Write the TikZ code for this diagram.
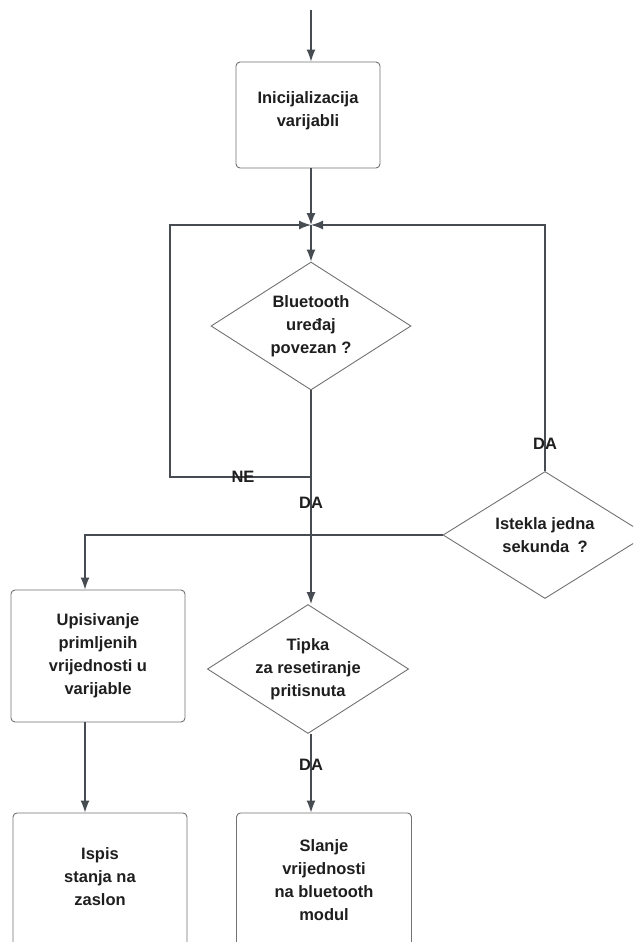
\documentclass[tikz,border=0pt]{standalone}
\usepackage{fontspec}
\setmainfont{Liberation Sans}
\usepackage{xcolor}
\usepackage{tikz}
\usetikzlibrary{arrows.meta, shapes.geometric}

\definecolor{linegray}{HTML}{474C53}
\definecolor{boxgray}{HTML}{727272}
\definecolor{txtgray}{HTML}{1E1E1E}

\begin{document}
\begin{tikzpicture}[x=1pt,y=-1pt,
%
    box/.style={rectangle,draw=boxgray,line width=0.9pt,rounded corners=4pt,align=center,
                text=txtgray,font=\bfseries\fontsize{16.5}{23}\selectfont},
    dec/.style={diamond,draw=boxgray,line width=0.9pt,inner sep=0pt,aspect=1.56,align=center,
                text=txtgray,font=\bfseries\fontsize{16.5}{23}\selectfont},
    lbl/.style={text=txtgray,font=\bfseries\fontsize{16.5}{18}\selectfont},
     Arr/.style={-{Latex[length=12pt,width=9pt]},draw=linegray,line width=1.3pt},
     Ln/.style={draw=linegray,line width=1.3pt},
                        ]
    \useasboundingbox (0,0) rectangle (633,942);
    \clip (0,0) rectangle (633,942);

    \node[box,minimum width=144pt,minimum height=106pt] (init_node) at (308,115)
        {Inicijalizacija\\varijabli\\[-11pt]};
    \node[dec,minimum width=200pt,minimum height=128pt] (bt_node) at (311,326)
        {Bluetooth\\uređaj\\povezan ?};
    \node[dec,minimum width=204pt,minimum height=127pt] (sec_node) at (545,535)
        {Istekla jedna\\sekunda\enspace ?};
    \node[box,minimum width=174pt,minimum height=132pt] (write_node) at (98,656)
        {Upisivanje\\primljenih\\vrijednosti u\\varijable};
    \node[dec,minimum width=200pt,minimum height=128pt] (reset_node) at (308,669)
        {Tipka\\za resetiranje\\pritisnuta};
    \node[box,minimum width=174pt,minimum height=134pt] (print_node) at (100,880)
        {Ispis\\stanja na\\zaslon\\[-17pt]};
    \node[box,minimum width=175pt,minimum height=134pt] (send_node) at (324,880)
        {Slanje\\vrijednosti\\na bluetooth\\modul};

    \coordinate (start) at (311,10);
    \coordinate (merge) at (311,225);
    \coordinate (ne_pt) at (311,477);
    \coordinate (ne_corner) at (170,225);
    \coordinate (left_col) at (85,0);

    \draw[Arr] (start) -- (init_node.north -| start);
    \draw[Arr] (init_node.south -| start) -- (merge);
    \draw[Arr] (merge) -- (bt_node.north);
    \draw[Ln] (bt_node.south) -- (ne_pt);
    \draw[Arr] (ne_pt) -| (ne_corner) -- (merge);
    \draw[Arr] (sec_node.north) |- (merge);
    \draw[Arr] (ne_pt) -- (reset_node.north -| ne_pt);
    \draw[Arr] (sec_node.west) -| (write_node.north -| left_col);
    \draw[Arr] (write_node.south -| left_col) -- (print_node.north -| left_col);
    \draw[Arr] (reset_node.south -| ne_pt) -- (send_node.north -| ne_pt);

    \node[lbl] (ne_lbl) at (243,477) {NE};
    \node[lbl] (da_bt) at (311,503) {DA};
    \node[lbl] (da_sec) at (545,444) {DA};
    \node[lbl] (da_reset) at (311,765) {DA};

\end{tikzpicture}
\end{document}
